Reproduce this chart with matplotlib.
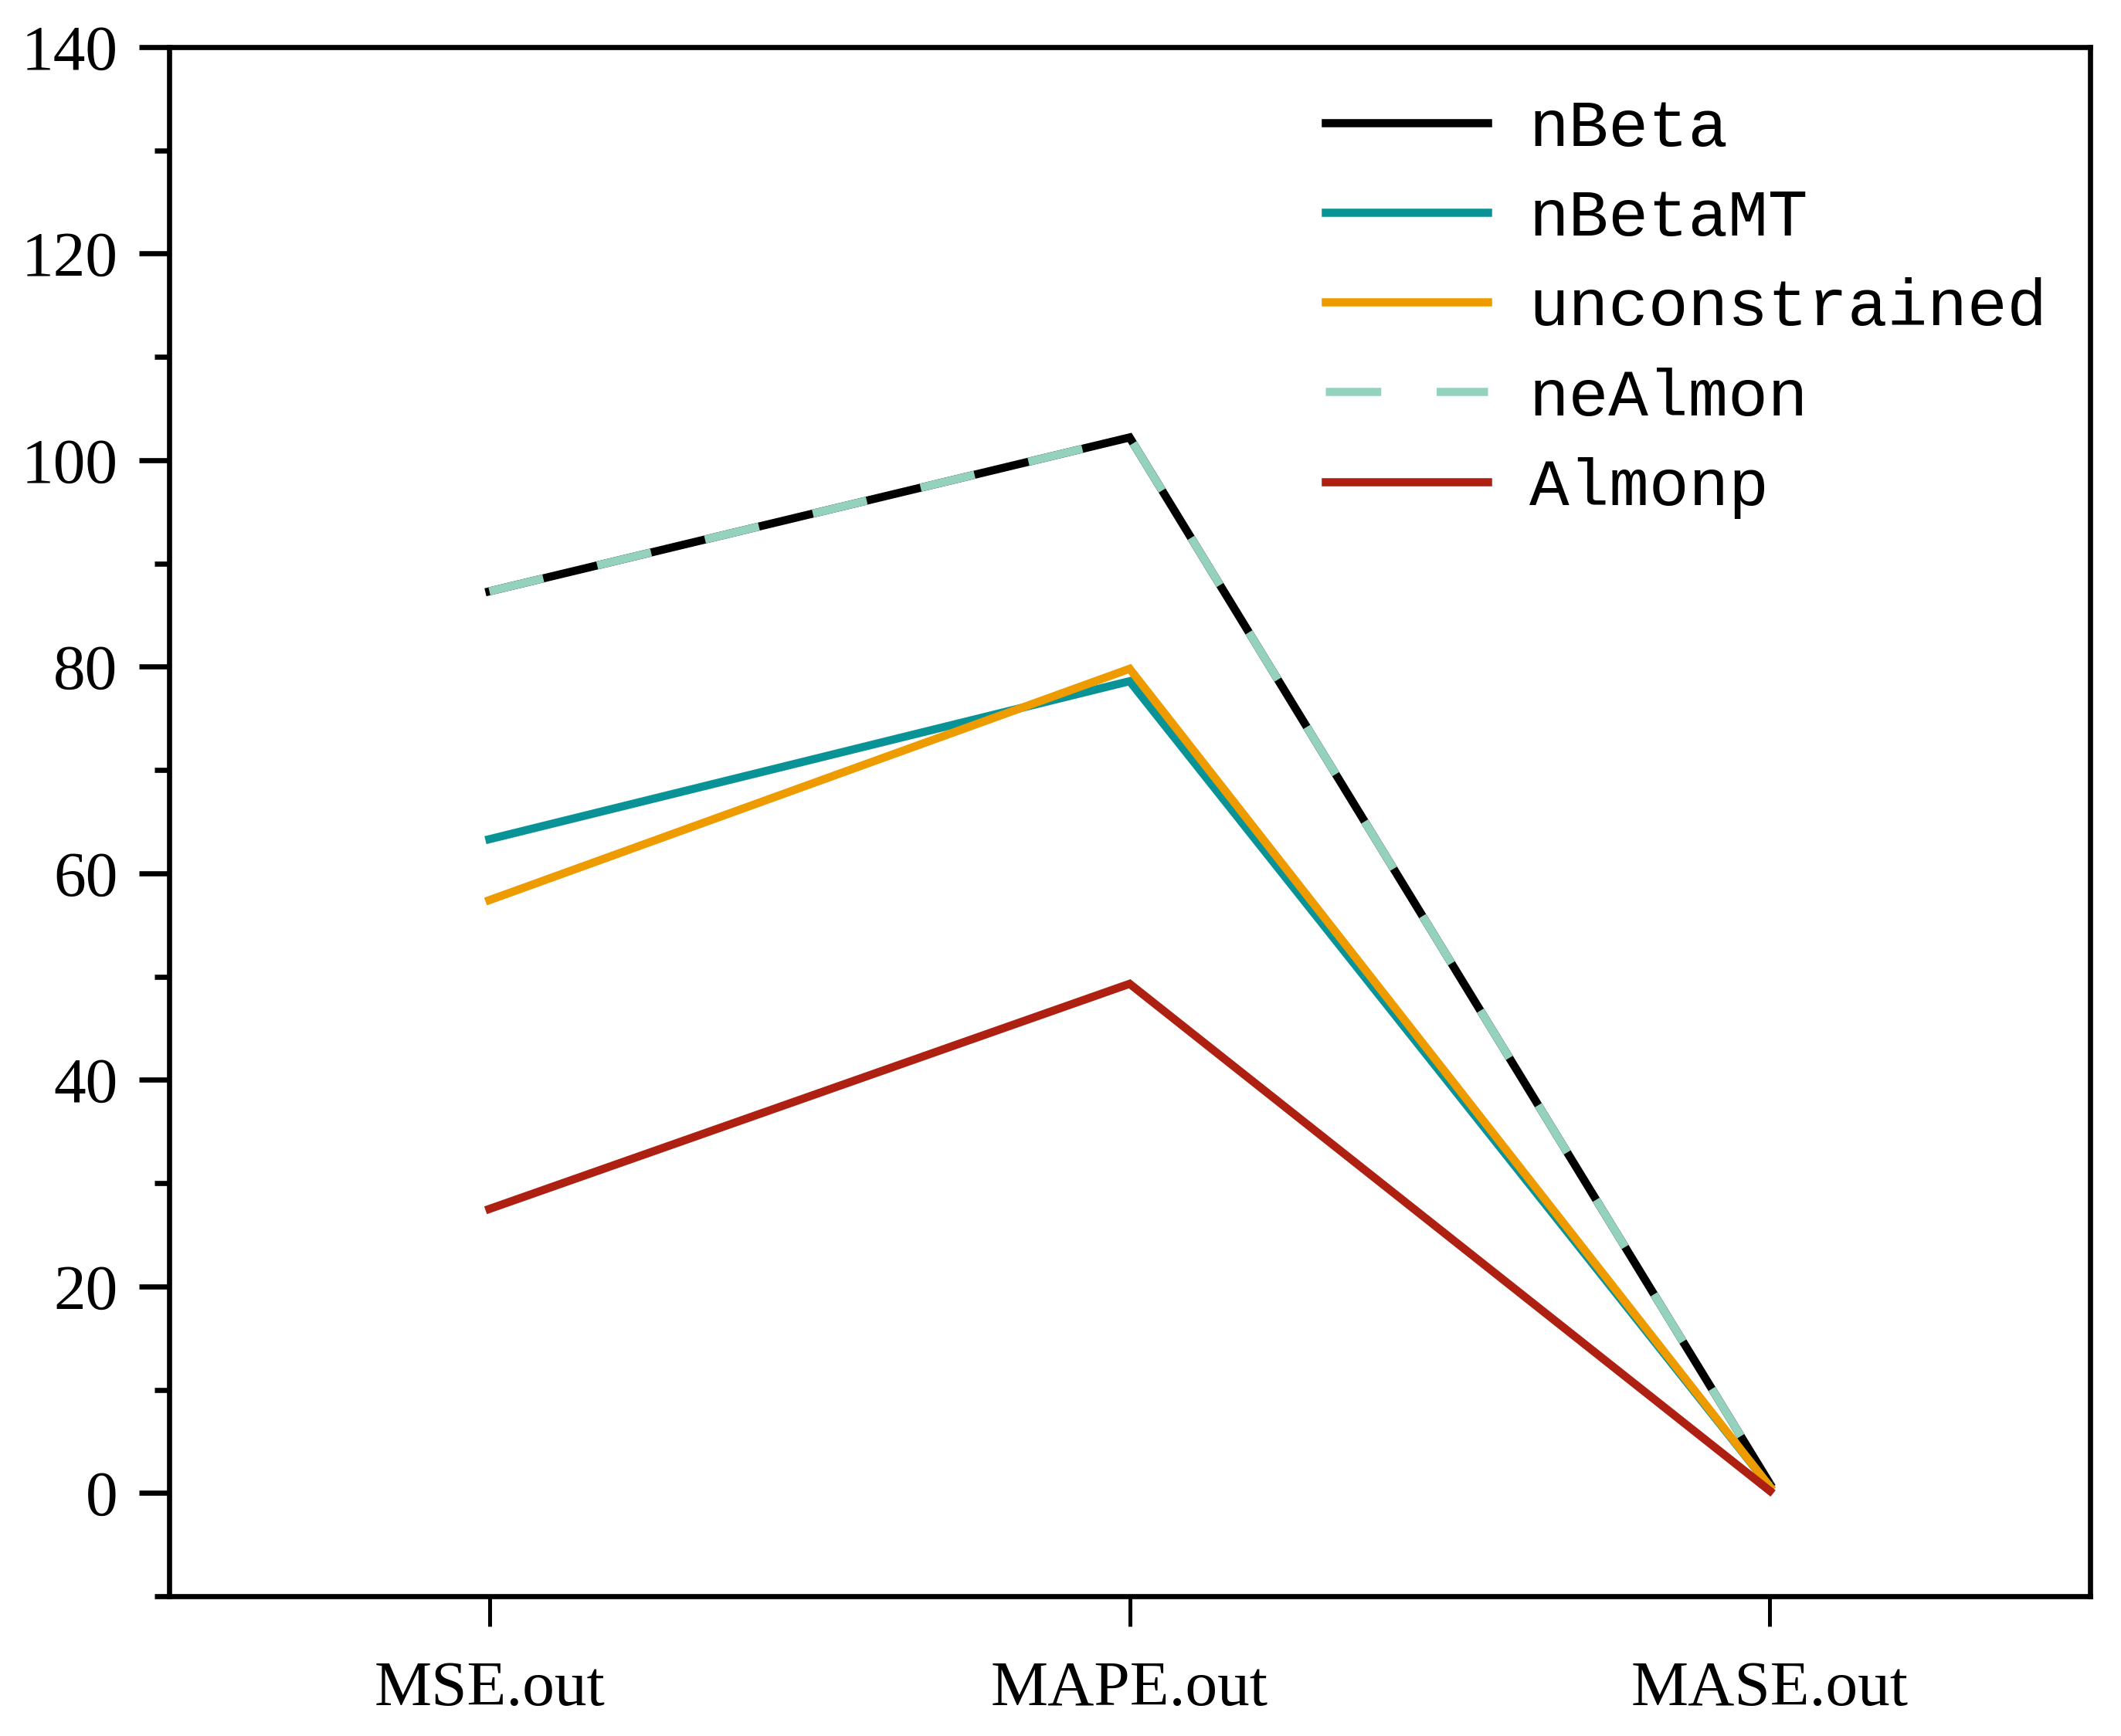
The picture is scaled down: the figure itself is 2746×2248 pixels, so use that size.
import matplotlib
matplotlib.use("Agg")
import matplotlib.pyplot as plt
from matplotlib.ticker import MultipleLocator

# data
metrics = ["MSE.out", "MAPE.out", "MASE.out"]
nbeta = [87.3, 102.2, 0.9]
nbeta_mt = [63.3, 78.6, 0.6]
unconstrained = [57.4, 79.8, 0.6]
nealmon = [87.3, 102.2, 0.9]
almonp = [27.5, 49.3, 0.2]

x = list(range(len(metrics)))

fig = plt.figure(figsize=(13.73, 11.24), dpi=200)
ax = fig.add_axes([0.0798, 0.0805, 0.9056, 0.8924])

lw = 3.8
kw = dict(lw=lw, solid_joinstyle="miter", dash_joinstyle="miter")
ax.plot(x, nbeta, color="#000000", label="nBeta", **kw)
ax.plot(x, nbeta_mt, color="#0a9396", label="nBetaMT", **kw)
ax.plot(x, unconstrained, color="#ee9b00", label="unconstrained", **kw)
ax.plot(x, nealmon, color="#94d2bd", label="neAlmon", dashes=(6.8, 6.8), **kw)
ax.plot(x, almonp, color="#ae2012", label="Almonp", **kw)

ax.set_xlim(-0.5, 2.5)
ax.set_ylim(-10, 140)
ax.set_xticks(x)
ax.set_xticklabels(metrics)
ax.yaxis.set_major_locator(MultipleLocator(20))
ax.yaxis.set_minor_locator(MultipleLocator(10))

for s in ax.spines.values():
    s.set_linewidth(2.4)
ax.tick_params(axis="y", which="major", direction="out", length=14, width=2.4, pad=10)
ax.tick_params(axis="y", which="minor", direction="out", length=7, width=2.4)
ax.tick_params(axis="x", which="major", direction="out", length=14, width=1.8, pad=16)

for lab in ax.get_yticklabels() + ax.get_xticklabels():
    lab.set_fontfamily("Liberation Serif")
    lab.set_fontsize(30)

leg = ax.legend(loc="upper left", bbox_to_anchor=(0.602, 0.967), frameon=False,
                prop={"family": "Liberation Mono", "size": 31},
                handlelength=2.44, handletextpad=0.62, labelspacing=0.42,
                borderpad=0, borderaxespad=0)

fig.savefig("out.png", dpi=200)
